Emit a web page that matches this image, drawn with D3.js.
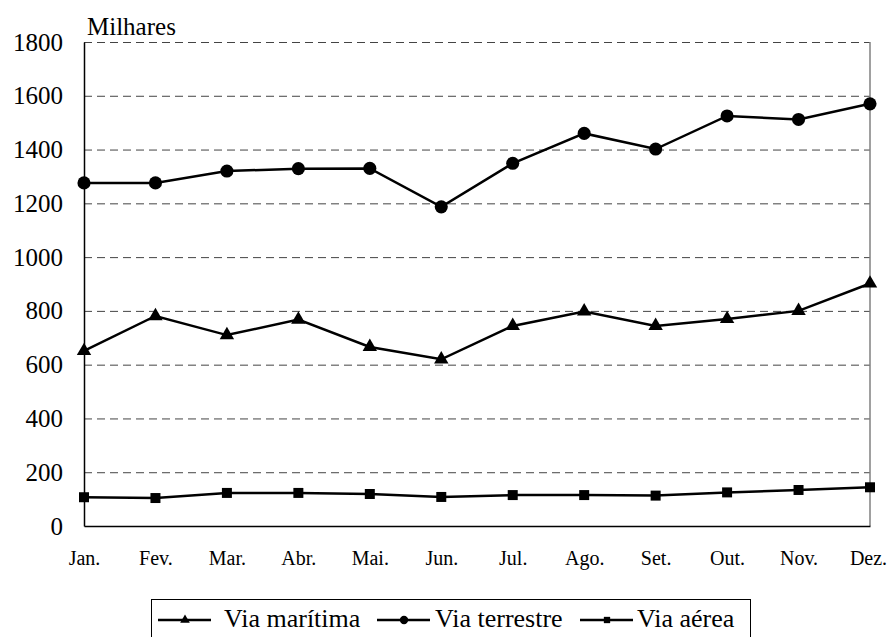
<!DOCTYPE html>
<html>
<head>
<meta charset="utf-8">
<script src="https://cdn.jsdelivr.net/npm/d3@7"></script>
<style>
  body { margin: 0; background: #fff; }
</style>
</head>
<body>
<script>
// Canvas setup
const canvasWidth = 888;
const canvasHeight = 637;
const serif = '"Liberation Serif", "Times New Roman", serif';

// Data
const months = ["Jan.", "Fev.", "Mar.", "Abr.", "Mai.", "Jun.", "Jul.", "Ago.", "Set.", "Out.", "Nov.", "Dez."];
const maritima = [651, 781, 710, 768, 666, 620, 744, 798, 744, 770, 800, 902];
const terrestre = [1276, 1276, 1320, 1329, 1330, 1187, 1349, 1460, 1402, 1525, 1512, 1570];
const aerea = [107, 104, 123, 123, 119, 108, 115, 115, 113, 125, 134, 144];
const yTicks = [0, 200, 400, 600, 800, 1000, 1200, 1400, 1600, 1800];
const seriesNames = ["Via marítima", "Via terrestre", "Via aérea"];

const series = [
    { name: seriesNames[0], values: maritima, symbol: d3.symbolTriangle, size: 90, legendSize: 40 },
    { name: seriesNames[1], values: terrestre, symbol: d3.symbolCircle, size: 135, legendSize: 55 },
    { name: seriesNames[2], values: aerea, symbol: d3.symbolSquare, size: 100, legendSize: 40 }
];

const margins = { top: 42, left: 84, right: 18, bottom: 111 };
const plotWidth = canvasWidth - margins.left - margins.right;
const plotHeight = canvasHeight - margins.top - margins.bottom;

const svg = d3.select('body')
    .append('svg')
    .attr('width', canvasWidth)
    .attr('height', canvasHeight)
    .style('display', 'block');

let xScale = d3.scalePoint()
    .domain(months)
    .range([0, plotWidth]);

let yScale = d3.scaleLinear()
    .domain([0, 1800])
    .range([plotHeight, 0]);

let plotGroup = svg.append('g')
    .attr('transform', `translate(${margins.left},${margins.top})`);

// gridlines
let grid = plotGroup.append('g')
    .call(d3.axisLeft(yScale).tickValues(yTicks.filter(v => v > 0)).tickSize(-plotWidth).tickFormat(''));
grid.select('.domain').remove();
grid.selectAll('line')
    .attr('stroke', '#444')
    .attr('stroke-width', 1)
    .attr('stroke-dasharray', '8,5');

// right border
plotGroup.append('line')
    .attr('x1', plotWidth).attr('x2', plotWidth)
    .attr('y1', 0).attr('y2', plotHeight)
    .attr('stroke', '#808080')
    .attr('stroke-width', 1.5);

// y axis
let yAxis = plotGroup.append('g')
    .call(d3.axisLeft(yScale).tickValues(yTicks).tickFormat(d3.format('d')).tickSize(0).tickPadding(21));
yAxis.select('.domain').attr('stroke', '#000').attr('stroke-width', 1.5);
yAxis.selectAll('text')
    .style('font-family', serif)
    .style('font-size', '25px')
    .attr('fill', '#000');

// x axis
let xAxis = plotGroup.append('g')
    .attr('transform', `translate(0,${plotHeight})`)
    .call(d3.axisBottom(xScale).tickSize(0));
xAxis.select('.domain').attr('stroke', '#000').attr('stroke-width', 1.5);
xAxis.selectAll('text')
    .attr('y', 39)
    .attr('dy', 0)
    .attr('dx', (d, i) => i === months.length - 1 ? -2 : 0)
    .style('font-family', serif)
    .style('font-size', '20px')
    .attr('fill', '#000');

// unit label
svg.append('text')
    .attr('x', 87)
    .attr('y', 35)
    .style('font-family', serif)
    .style('font-size', '25px')
    .text('Milhares');

// lines and markers
let lineFn = d3.line()
    .x((d, i) => xScale(months[i]))
    .y(d => yScale(d));

for (let s of series) {
    plotGroup.append('path')
        .attr('d', lineFn(s.values))
        .attr('fill', 'none')
        .attr('stroke', '#000')
        .attr('stroke-width', 2.5);

    plotGroup.append('g')
        .selectAll('path')
        .data(s.values)
        .join('path')
        .attr('transform', (d, i) => `translate(${xScale(months[i])},${yScale(d)})`)
        .attr('d', d3.symbol().type(s.symbol).size(s.size))
        .attr('fill', '#000');
}

// legend
let legend = svg.append('g');
legend.append('rect')
    .attr('x', 151.5)
    .attr('y', 599.5)
    .attr('width', 599)
    .attr('height', 60)
    .attr('fill', '#fff')
    .attr('stroke', '#000')
    .attr('stroke-width', 1);

const legendLineX = [158, 377, 580];
const legendTextX = [224, 435, 637];
series.forEach((s, i) => {
    let x0 = legendLineX[i];
    legend.append('line')
        .attr('x1', x0).attr('x2', x0 + 53)
        .attr('y1', 620).attr('y2', 620)
        .attr('stroke', '#000')
        .attr('stroke-width', 2.5);
    legend.append('path')
        .attr('transform', `translate(${x0 + 27},620)`)
        .attr('d', d3.symbol().type(s.symbol).size(s.legendSize))
        .attr('fill', '#000');
    legend.append('text')
        .attr('x', legendTextX[i])
        .attr('y', 627)
        .style('font-family', serif)
        .style('font-size', '26px')
        .text(s.name);
});
</script>
</body>
</html>
